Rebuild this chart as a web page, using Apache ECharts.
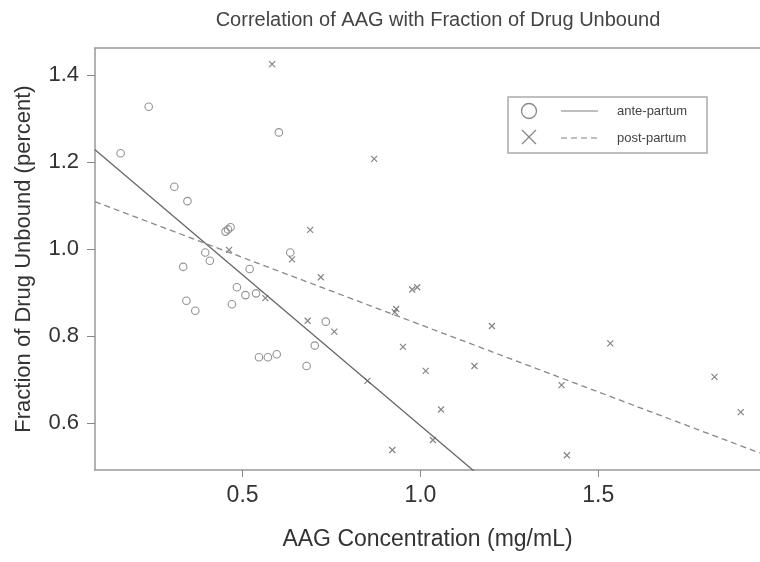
<!DOCTYPE html>
<html>
<head>
<meta charset="utf-8">
<script src="https://cdn.jsdelivr.net/npm/echarts@6/dist/echarts.min.js"></script>
<style>
    html, body { margin: 0; padding: 0; background: #fff; }
    #chart { width: 760px; height: 562px; }
</style>
</head>
<body>
<div id="chart"></div>
<script>
    // ante-partum points (AAG mg/mL, fraction unbound)
    var anteX = [0.236, 0.602, 0.157, 0.308, 0.345, 0.452, 0.459, 0.466, 0.395, 0.408, 0.333, 0.520, 0.634,
        0.484, 0.508, 0.538, 0.342, 0.367, 0.470, 0.734, 0.703, 0.546, 0.571, 0.596, 0.680];
    var anteY = [1.327, 1.268, 1.220, 1.143, 1.110, 1.040, 1.045, 1.050, 0.992, 0.973, 0.959, 0.954, 0.992,
        0.912, 0.894, 0.898, 0.881, 0.858, 0.873, 0.833, 0.778, 0.751, 0.751, 0.758, 0.731];
    // post-partum points
    var postX = [0.583, 0.870, 0.690, 0.462, 0.639, 0.720, 0.564, 0.683, 0.758, 0.977, 0.991, 0.928, 0.932,
        1.201, 0.951, 1.015, 1.152, 0.851, 1.397, 1.058, 1.035, 0.921, 1.412, 1.534, 1.827, 1.901];
    var postY = [1.425, 1.207, 1.044, 0.998, 0.976, 0.935, 0.887, 0.835, 0.810, 0.907, 0.912, 0.855, 0.862,
        0.823, 0.775, 0.720, 0.731, 0.697, 0.687, 0.631, 0.561, 0.538, 0.526, 0.783, 0.706, 0.625];
    // fitted lines: [intercept, slope]
    var anteFit = [1.287, -0.693];
    var postFit = [1.135, -0.309];
    var xTicks = [0.5, 1.0, 1.5];
    var yTicks = [0.6, 0.8, 1.0, 1.2, 1.4];
    var xRange = [0.085, 1.955];
    var yRange = [0.492, 1.462];

    var myChart = echarts.init(document.getElementById('chart'));
    var font = 'Liberation Sans, Arial, sans-serif';
    var crossPath = 'path://M0,0L10,10M0,10L10,0';
    var frame = { show: true, lineStyle: { color: '#999', width: 1.5 } };

    function pairs(xs, ys) {
        return xs.map(function(x, i) {
            return [x, ys[i]];
        });
    }

    function fitLine(fit) {
        return xRange.map(function(x) {
            return [x, fit[0] + fit[1] * x];
        });
    }

    var option = {
        backgroundColor: '#fff',
        animation: false,
        title: {
            text: 'Correlation of AAG with Fraction of Drug Unbound',
            left: 433,
            top: 5,
            textAlign: 'center',
            textStyle: {
                fontFamily: font,
                fontWeight: 'normal',
                fontSize: 20,
                color: '#444'
            }
        },
        grid: {
            left: 95,
            top: 48,
            width: 667,
            bottom: 92,
            show: false
        },
        xAxis: [{
            type: 'value',
            min: xRange[0],
            max: xRange[1],
            name: 'AAG Concentration (mg/mL)',
            nameLocation: 'middle',
            nameGap: 58,
            nameTextStyle: {
                fontFamily: font,
                fontSize: 23,
                color: '#333'
            },
            axisLine: frame,
            axisTick: {
                show: true,
                customValues: xTicks,
                length: 7,
                lineStyle: { color: '#888' }
            },
            axisLabel: {
                customValues: xTicks,
                margin: 14,
                fontFamily: font,
                fontSize: 23,
                color: '#333',
                formatter: function(v) {
                    return v.toFixed(1);
                }
            },
            splitLine: { show: false }
        }, {
            // top edge of the box
            type: 'value',
            position: 'top',
            min: xRange[0],
            max: xRange[1],
            axisLine: frame,
            axisTick: { show: false },
            axisLabel: { show: false },
            splitLine: { show: false }
        }],
        yAxis: {
            type: 'value',
            min: yRange[0],
            max: yRange[1],
            name: 'Fraction of Drug Unbound (percent)',
            nameLocation: 'middle',
            nameGap: 60,
            nameTextStyle: {
                fontFamily: font,
                fontSize: 22,
                color: '#333'
            },
            axisLine: frame,
            axisTick: {
                show: true,
                customValues: yTicks,
                length: 8,
                lineStyle: { color: '#888' }
            },
            axisLabel: {
                customValues: yTicks,
                margin: 16,
                fontFamily: font,
                fontSize: 22,
                color: '#333',
                formatter: function(v) {
                    return v.toFixed(1);
                }
            },
            splitLine: { show: false }
        },
        series: [{
            name: 'ante-partum',
            type: 'scatter',
            symbol: 'circle',
            symbolSize: 7.5,
            itemStyle: {
                color: 'rgba(255,255,255,0)',
                borderColor: '#777',
                borderWidth: 1.1
            },
            data: pairs(anteX, anteY)
        }, {
            name: 'post-partum',
            type: 'scatter',
            symbol: crossPath,
            symbolSize: 6,
            itemStyle: {
                color: 'none',
                borderColor: '#666',
                borderWidth: 1.2
            },
            data: pairs(postX, postY)
        }, {
            name: 'ante fit',
            type: 'line',
            symbol: 'none',
            clip: true,
            lineStyle: { color: '#666', width: 1.3, type: 'solid' },
            data: fitLine(anteFit)
        }, {
            name: 'post fit',
            type: 'line',
            symbol: 'none',
            clip: true,
            lineStyle: { color: '#888', width: 1.3, type: [6, 4] },
            data: fitLine(postFit)
        }],
        graphic: [{
            type: 'rect',
            shape: { x: 508, y: 97, width: 199, height: 56 },
            style: { fill: '#fff', stroke: '#aaa', lineWidth: 1.5 }
        }, {
            type: 'circle',
            shape: { cx: 529, cy: 111, r: 7.5 },
            style: { fill: 'none', stroke: '#888', lineWidth: 1.3 }
        }, {
            type: 'group',
            children: [{
                type: 'line',
                shape: { x1: 522, y1: 130, x2: 536, y2: 144 },
                style: { stroke: '#888', lineWidth: 1.3 }
            }, {
                type: 'line',
                shape: { x1: 536, y1: 130, x2: 522, y2: 144 },
                style: { stroke: '#888', lineWidth: 1.3 }
            }]
        }, {
            type: 'line',
            shape: { x1: 561, y1: 111, x2: 598, y2: 111 },
            style: { stroke: '#aaa', lineWidth: 1.3 }
        }, {
            type: 'line',
            shape: { x1: 561, y1: 138, x2: 598, y2: 138 },
            style: { stroke: '#aaa', lineWidth: 1.3, lineDash: [6, 4] }
        }, {
            type: 'text',
            style: {
                text: 'ante-partum',
                x: 617,
                y: 111,
                verticalAlign: 'middle',
                fontFamily: font,
                fontSize: 13,
                fill: '#444'
            }
        }, {
            type: 'text',
            style: {
                text: 'post-partum',
                x: 617,
                y: 138,
                verticalAlign: 'middle',
                fontFamily: font,
                fontSize: 13,
                fill: '#444'
            }
        }]
    };

    myChart.setOption(option);
    window.addEventListener('resize', function() {
        myChart.resize();
    });
</script>
</body>
</html>
